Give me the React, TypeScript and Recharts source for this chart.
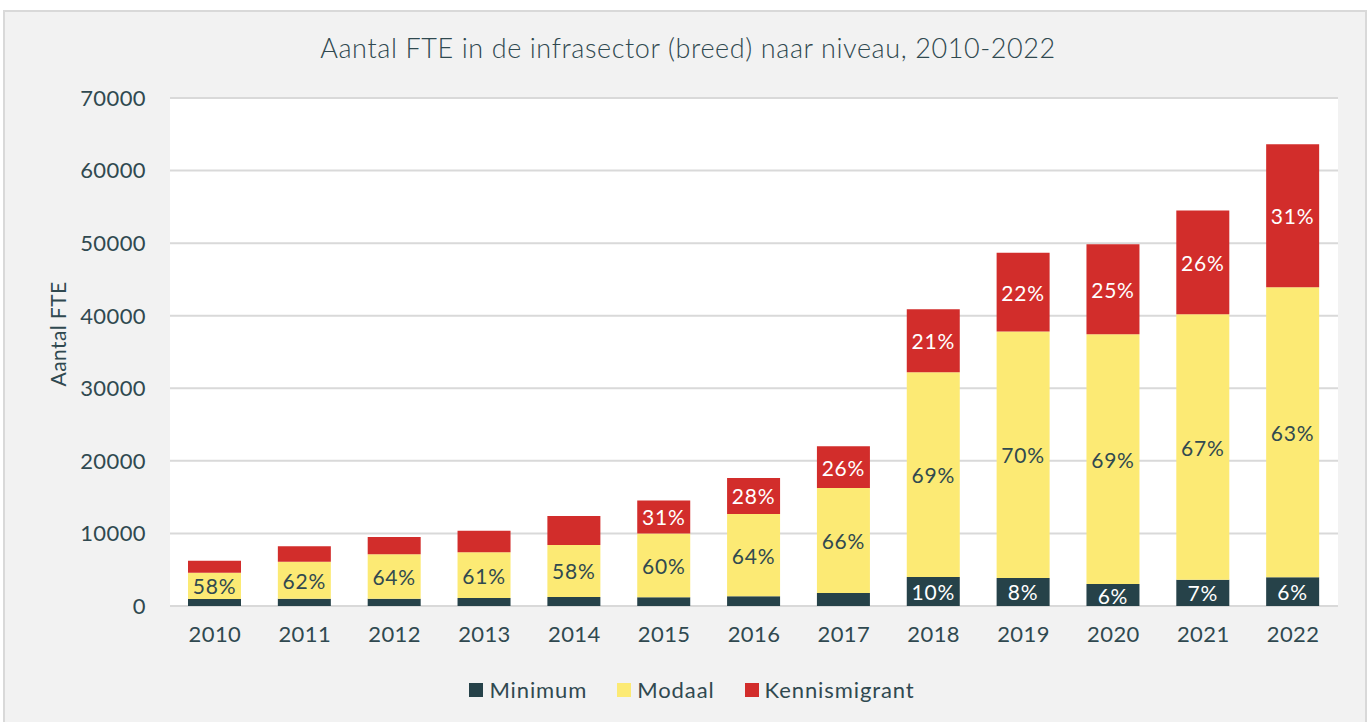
import React from "react";
import { BarChart, Bar, XAxis, YAxis, CartesianGrid, LabelList } from "recharts";

const years = ["2010", "2011", "2012", "2013", "2014", "2015", "2016", "2017", "2018", "2019", "2020", "2021", "2022"];
const minimum = [950, 1010, 1010, 1100, 1240, 1200, 1330, 1790, 4000, 3860, 3030, 3600, 3950];
const modaal = [3620, 5100, 6110, 6320, 7170, 8800, 11350, 14470, 28200, 33950, 34420, 36600, 39980];
const kennismigrant = [1650, 2120, 2390, 2950, 3990, 4550, 4960, 5750, 8700, 10850, 12400, 14300, 19700];
const yTicks = [0, 10000, 20000, 30000, 40000, 50000, 60000, 70000];

const TEXT = "#304950";
const FONT = "Lato, 'Open Sans', sans-serif";
const COLORS = { minimum: "#264249", modaal: "#fcea74", kennismigrant: "#d22d2b" };

const data = years.map((year, i) => ({
  year,
  minimum: minimum[i],
  modaal: modaal[i],
  kennismigrant: kennismigrant[i],
  total: minimum[i] + modaal[i] + kennismigrant[i],
}));

// label in het midden van het segment, alleen als het segment groot genoeg is
const pctLabel = (key: string, color: string, threshold: number) => (props: any) => {
  const { x, y, width, height, index } = props;
  const row = data[index];
  const v = row[key];
  if (v < threshold) return null;
  const pct = Math.round((v / row.total) * 100);
  return (
    <text
      x={x + width / 2}
      y={y + height / 2}
      fill={color}
      textAnchor="middle"
      dominantBaseline="central"
      fontSize={21}
      letterSpacing={0.8}
      fontFamily={FONT}
    >
      {`${pct}%`}
    </text>
  );
};

const legendItems = [
  { name: "Minimum", color: COLORS.minimum },
  { name: "Modaal", color: COLORS.modaal },
  { name: "Kennismigrant", color: COLORS.kennismigrant },
];

const tickStyle = { fill: TEXT, fontSize: 22, fontFamily: FONT, letterSpacing: 0.4 };

export default function App() {
  return (
    <div style={{ position: "relative", width: 1370, height: 722, background: "#fff", fontFamily: FONT, overflow: "hidden" }}>
      <style>{`body{margin:0}`}</style>
      <div
        style={{
          position: "absolute",
          left: 3,
          top: 10,
          width: 1364,
          height: 720,
          background: "#f2f2f2",
          border: "2px solid #d9d9d9",
          boxSizing: "border-box",
        }}
      />
      <div
        style={{
          position: "absolute",
          left: 3,
          width: 1370,
          top: 30,
          textAlign: "center",
          fontSize: 27,
          letterSpacing: 0.6,
          fontWeight: 300,
          color: TEXT,
          lineHeight: "36px",
        }}
      >
        Aantal FTE in de infrasector (breed) naar niveau, 2010-2022
      </div>
      <div
        style={{
          position: "absolute",
          left: 57,
          top: 334,
          transform: "translate(-50%, -50%) rotate(-90deg)",
          fontSize: 21,
          letterSpacing: 0.4,
          color: TEXT,
          whiteSpace: "nowrap",
        }}
      >
        Aantal FTE
      </div>
      <div style={{ position: "absolute", left: 0, top: 0 }}>
        <BarChart
          width={1370}
          height={722}
          data={data}
          margin={{ top: 98, right: 32, left: 0, bottom: 86 }}
          barSize={53}
        >
          <CartesianGrid vertical={false} stroke="#d9d9d9" strokeWidth={2} fill="#ffffff" fillOpacity={1} />
          <XAxis
            dataKey="year"
            height={30}
            axisLine={false}
            tickLine={false}
            tickSize={0}
            tickMargin={20}
            tick={tickStyle}
          />
          <YAxis
            width={170}
            domain={[0, 70000]}
            ticks={yTicks}
            axisLine={false}
            tickLine={false}
            tickSize={0}
            tickMargin={24}
            tick={tickStyle}
          />
          <Bar dataKey="minimum" stackId="a" fill={COLORS.minimum} isAnimationActive={false}>
            <LabelList dataKey="minimum" content={pctLabel("minimum", "#ffffff", 2500)} />
          </Bar>
          <Bar dataKey="modaal" stackId="a" fill={COLORS.modaal} isAnimationActive={false}>
            <LabelList dataKey="modaal" content={pctLabel("modaal", TEXT, 0)} />
          </Bar>
          <Bar dataKey="kennismigrant" stackId="a" fill={COLORS.kennismigrant} isAnimationActive={false}>
            <LabelList dataKey="kennismigrant" content={pctLabel("kennismigrant", "#ffffff", 4200)} />
          </Bar>
        </BarChart>
      </div>
      <div
        style={{
          position: "absolute",
          left: 0,
          width: 1384,
          top: 675,
          display: "flex",
          justifyContent: "center",
          gap: 30,
          fontSize: 22,
          letterSpacing: 0.9,
          color: TEXT,
          lineHeight: "30px",
        }}
      >
        {legendItems.map((item) => (
          <div key={item.name} style={{ display: "flex", alignItems: "center", gap: 6 }}>
            <span style={{ width: 14, height: 14, background: item.color, display: "inline-block" }} />
            <span>{item.name}</span>
          </div>
        ))}
      </div>
    </div>
  );
}
